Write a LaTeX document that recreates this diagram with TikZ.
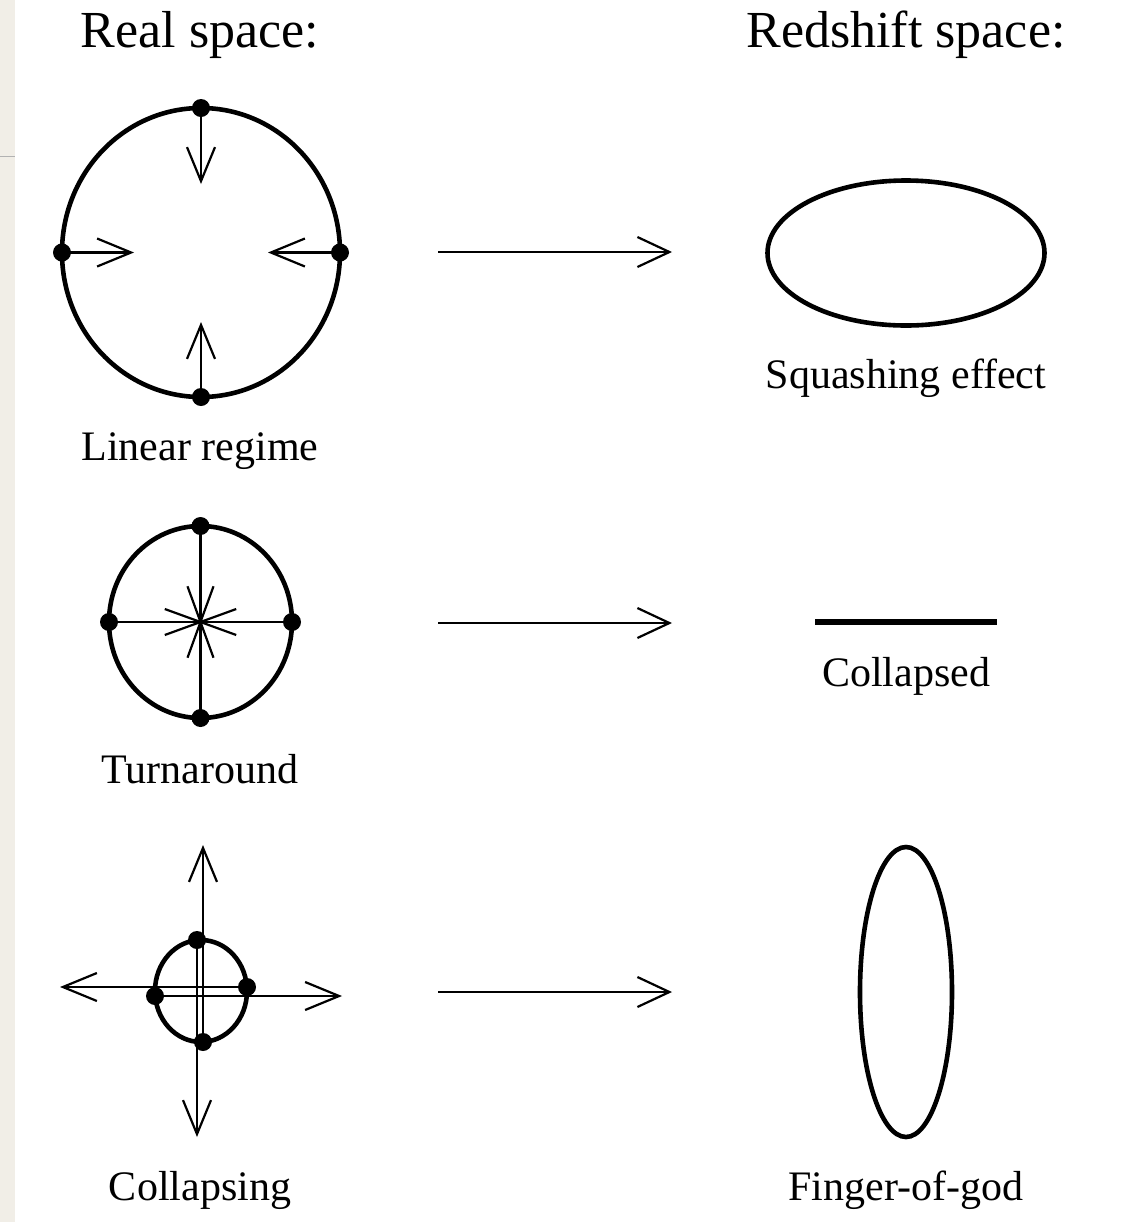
\documentclass[tikz,border=0pt]{standalone}
\usepackage{fontspec}
\setmainfont{Liberation Serif}
\usetikzlibrary{arrows.meta}
\definecolor{sidebeige}{HTML}{F1EEE7}

\begin{document}
\begin{tikzpicture}[x=0.5pt, y=-0.5pt,
    head/.style={font=\fontsize{26}{30}\selectfont, anchor=base},
    lbl/.style={font=\fontsize{21}{25}\selectfont, anchor=base},
    shell/.style={line width=2.3pt},
    thin/.style={line width=1.1pt},
    pt/.style={circle, fill=black, inner sep=0pt, minimum size=9pt},
    vel/.style={-{Straight Barb[length=17pt, width=14pt]}, line width=1.1pt},
    map/.style={-{Straight Barb[length=16pt, width=15pt]}, line width=1.1pt}
]
    \useasboundingbox (0,0) rectangle (1143,1222);
    \fill[sidebeige] (0,0) rectangle (15,1222);
    \draw[gray!60, line width=0.5pt] (0,156) -- (15,156);

    % column headers
    \node[head] (real) at (200,47) {Real space:};
    \node[head] (red) at (906,47) {Redshift space:};

    % linear regime
    \coordinate (lc) at (201,252.5);
    \draw[shell] (lc) ellipse (139 and 144.5);
    \node[pt] (la) at (201,108) {};
    \node[pt] (lb) at (201,397) {};
    \node[pt] (ll) at (62,252.5) {};
    \node[pt] (lr) at (340,252.5) {};
    \coordinate (la') at (201,184);
    \coordinate (lb') at (201,322);
    \coordinate (ll') at (134,252.5);
    \coordinate (lr') at (268,252.5);
    \draw[vel] (la.center) -- (la');
    \draw[vel] (lb.center) -- (lb');
    \draw[vel] (ll.center) -- (ll');
    \draw[vel] (lr.center) -- (lr');
    \node[lbl] (lin) at (200,460) {Linear regime};

    % turnaround
    \coordinate (tc) at (200.5,622);
    \draw[shell] (tc) ellipse (91.5 and 96);
    \node[pt] (ta) at (200.5,526) {};
    \node[pt] (tb) at (200.5,718) {};
    \node[pt] (tl) at (109,622) {};
    \node[pt] (tr) at (292,622) {};
    \draw[thin] (ta.center) -- (tb.center);
    \draw[thin] (tl.center) -- (tr.center);
    \foreach \a in {20,70,110,160}
        \draw[thin] (tc) ++(\a:38) -- ++(\a+180:76);
    \node[lbl] (turn) at (200,783) {Turnaround};

    % collapsing
    \coordinate (cc) at (201,991);
    \draw[shell] (cc) ellipse (46 and 51);
    \node[pt] (ca) at (197,940) {};
    \node[pt] (cb) at (203,1042) {};
    \node[pt] (cl) at (155,996) {};
    \node[pt] (cr) at (247,987) {};
    \coordinate (cup) at (203,845);
    \coordinate (cdn) at (197,1137);
    \coordinate (clf) at (60,987);
    \coordinate (crt) at (342,996);
    \draw[vel] (cb.center) -- (cup);
    \draw[vel] (ca.center) -- (cdn);
    \draw[vel] (cr.center) -- (clf);
    \draw[vel] (cl.center) -- (crt);
    \node[lbl] (coll) at (200,1200) {Collapsing};

    % mapping arrows
    \foreach \y/\n in {252/1,623/2,992/3} {
        \coordinate (m\n a) at (438,\y);
        \coordinate (m\n b) at (672,\y);
        \draw[map] (m\n a) -- (m\n b);
    }

    % redshift space
    \draw[shell] (906,253) ellipse (138.5 and 72.5);
    \node[lbl] (squash) at (906,388) {Squashing effect};
    \coordinate (ca1) at (815,622);
    \coordinate (ca2) at (997,622);
    \draw[line width=2.8pt] (ca1) -- (ca2);
    \node[lbl] (clpd) at (906,686) {Collapsed};
    \draw[shell] (906,992) ellipse (46 and 145);
    \node[lbl] (fog) at (906,1200) {Finger-of-god};
\end{tikzpicture}
\end{document}
